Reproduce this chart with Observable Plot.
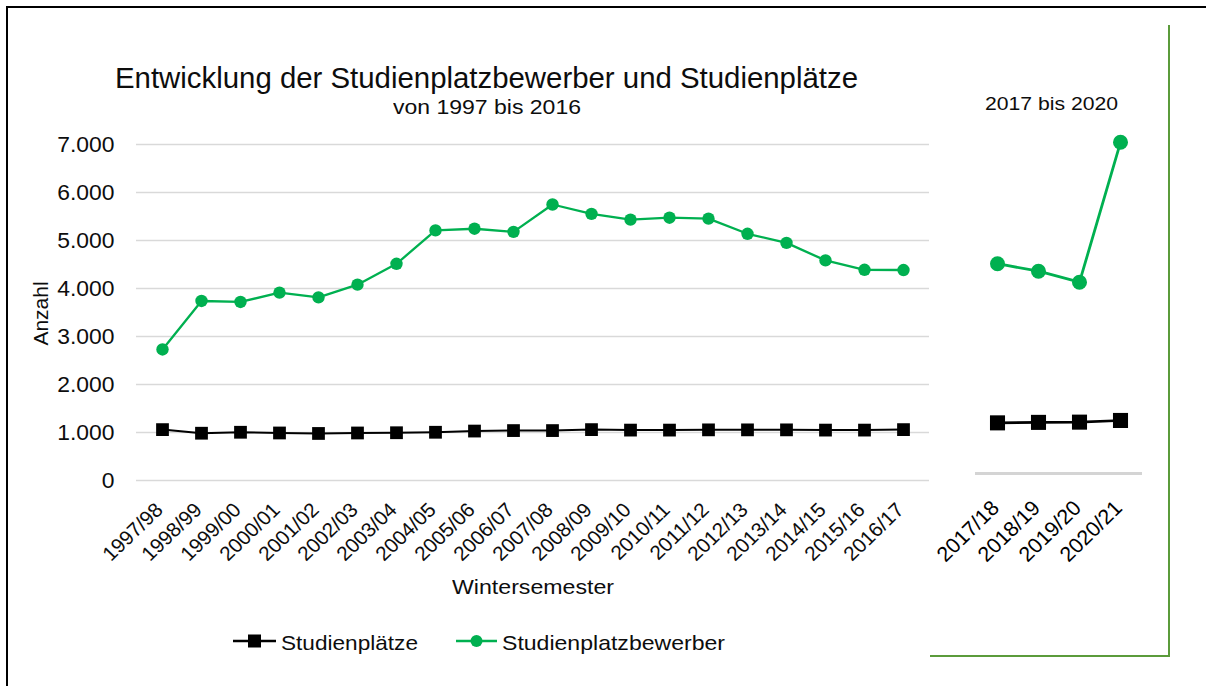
<!DOCTYPE html>
<html><head><meta charset="utf-8">
<script src="https://cdn.jsdelivr.net/npm/d3@7"></script>
<script src="https://cdn.jsdelivr.net/npm/@observablehq/plot@0.6"></script>
<style>
body{margin:0;background:#fff;}
#root{position:relative;width:1206px;height:686px;overflow:hidden;font-family:"Liberation Sans",Arial,sans-serif;color:#0d0d0d;background:#fff;}
.t{position:absolute;white-space:nowrap;line-height:1;transform-origin:0 50%;}
.frameBlack{position:absolute;left:6px;top:6px;width:1210px;height:700px;border-top:2px solid #000;border-left:2px solid #000;}
.frameGreen{position:absolute;left:930px;top:25px;width:238px;height:630px;border-right:2px solid #5b9b3b;border-bottom:2px solid #5b9b3b;}
.plot{position:absolute;}
</style></head><body><div id="root"><div class="frameBlack"></div><div class="frameGreen"></div></div>
<script>
// ---- data ----
const semesters = ["1997/98","1998/99","1999/00","2000/01","2001/02","2002/03","2003/04","2004/05","2005/06","2006/07","2007/08","2008/09","2009/10","2010/11","2011/12","2012/13","2013/14","2014/15","2015/16","2016/17"];
const bewerber = [2730, 3740, 3720, 3915, 3815, 4080, 4515, 5210, 5245, 5180, 5750, 5555, 5435, 5475, 5455, 5140, 4950, 4585, 4390, 4385];
const plaetze  = [1060, 985, 1005, 990, 980, 990, 995, 1005, 1030, 1040, 1040, 1060, 1050, 1050, 1055, 1055, 1055, 1050, 1050, 1060];
const semestersNeu = ["2017/18","2018/19","2019/20","2020/21"];
const bewerberNeu = [4370, 4215, 3985, 6900];
const plaetzeNeu  = [1055, 1065, 1070, 1105];
const yTicks = [0, 1000, 2000, 3000, 4000, 5000, 6000, 7000];
const titleText = "Entwicklung der Studienplatzbewerber und Studienplätze";
const subtitleText = "von 1997 bis 2016";
const subtitleNeu = "2017 bis 2020";
const yLabel = "Anzahl";
const xLabel = "Wintersemester";
const seriesNames = ["Studienplätze", "Studienplatzbewerber"];

const GREEN = "#00b050", BLACK = "#000000";
const root = document.getElementById("root");
const fmt = d => d3.format(",")(d).replace(/,/g, ".");

function styleTicks(svg, s) {
  svg.querySelectorAll('g[aria-label$="tick label"] text').forEach(t => {
    const tr = t.getAttribute("transform") || "";
    t.setAttribute("transform", tr.includes("rotate") ? tr.replace("rotate", `scale(${s},1) rotate`) : tr + ` scale(${s},1)`);
  });
}
function place(svg, left, top) {
  svg.classList.add("plot");
  svg.style.left = left + "px"; svg.style.top = top + "px";
  root.appendChild(svg);
}
function label(text, left, right, cy, size) {
  const el = document.createElement("div");
  el.className = "t"; el.textContent = text;
  el.style.fontSize = size + "px"; el.style.left = left + "px"; el.style.top = (cy - 0.49 * size) + "px";
  root.appendChild(el);
  const w = el.getBoundingClientRect().width;
  el.style.transform = `scaleX(${(right - left) / w})`;
  return el;
}

// ---- left chart ----
const rows = semesters.map((s, i) => ({sem: s, bew: bewerber[i], pl: plaetze[i]}));
const left = Plot.plot({
  width: 940, height: 470,
  marginLeft: 136, marginRight: 11, marginTop: 24, marginBottom: 110,
  style: {fontFamily: '"Liberation Sans", Arial, sans-serif', color: "#0d0d0d", background: "transparent", overflow: "visible"},
  x: {type: "point", domain: semesters, padding: 0.5, label: null},
  y: {domain: [0, 7000], label: null},
  marks: [
    Plot.ruleY(yTicks, {stroke: "#d9d9d9", strokeWidth: 1.5}),
    Plot.axisY(yTicks, {tickSize: 0, tickPadding: 22, tickFormat: fmt, fontSize: 22, label: null}),
    Plot.axisX({tickSize: 0, tickRotate: -45, tickPadding: 26, dx: -3, fontSize: 20, label: null}),
    Plot.lineY(rows, {x: "sem", y: "pl", stroke: BLACK, strokeWidth: 2}),
    Plot.dot(rows, {x: "sem", y: "pl", symbol: "square", r: 7.2, fill: BLACK}),
    Plot.lineY(rows, {x: "sem", y: "bew", stroke: GREEN, strokeWidth: 2.3}),
    Plot.dot(rows, {x: "sem", y: "bew", r: 6.2, fill: GREEN})
  ]
});
styleTicks(left, 1.04);
place(left, 0, 120);

// ---- right chart ----
const rowsNeu = semestersNeu.map((s, i) => ({sem: s, bew: bewerberNeu[i], pl: plaetzeNeu[i]}));
const right = Plot.plot({
  width: 240, height: 463,
  marginLeft: 45, marginRight: 28, marginTop: 27, marginBottom: 100,
  style: {fontFamily: '"Liberation Sans", Arial, sans-serif', color: "#000", background: "transparent", overflow: "visible"},
  x: {type: "point", domain: semestersNeu, padding: 0.5, label: null},
  y: {domain: [0, 7000], label: null, axis: null},
  marks: [
    Plot.ruleY([0], {stroke: "#d4d4d4", strokeWidth: 3}),
    Plot.axisX({tickSize: 0, tickRotate: -45, tickPadding: 31, dx: -2, fontSize: 21, label: null}),
    Plot.lineY(rowsNeu, {x: "sem", y: "pl", stroke: BLACK, strokeWidth: 2.6}),
    Plot.dot(rowsNeu, {x: "sem", y: "pl", symbol: "square", r: 8.5, fill: BLACK}),
    Plot.lineY(rowsNeu, {x: "sem", y: "bew", stroke: GREEN, strokeWidth: 2.8}),
    Plot.dot(rowsNeu, {x: "sem", y: "bew", r: 7.5, fill: GREEN})
  ]
});
styleTicks(right, 1.02);
place(right, 930, 110);

// ---- texts ----
label(titleText, 115, 858, 78, 30);
label(subtitleText, 393, 581, 106, 21);
label(subtitleNeu, 985, 1118, 103, 19);
label(xLabel, 452, 614, 587, 20);
const yl = label(yLabel, 0, 64, 0, 21);
yl.style.left = "8px"; yl.style.top = (313 - 10.3) + "px";
yl.style.transformOrigin = "50% 50%";
yl.style.transform = "rotate(-90deg)";

// ---- legend ----
function swatch(x0, x1, cy, color, kind) {
  const ns = "http://www.w3.org/2000/svg";
  const s = document.createElementNS(ns, "svg");
  s.setAttribute("width", x1 - x0); s.setAttribute("height", 20);
  s.style.position = "absolute"; s.style.left = x0 + "px"; s.style.top = (cy - 10) + "px";
  const l = document.createElementNS(ns, "line");
  l.setAttribute("x1", 0); l.setAttribute("x2", x1 - x0); l.setAttribute("y1", 10); l.setAttribute("y2", 10);
  l.setAttribute("stroke", color); l.setAttribute("stroke-width", 2.5);
  s.appendChild(l);
  const m = (x1 - x0) / 2;
  if (kind === "square") {
    const r = document.createElementNS(ns, "rect");
    r.setAttribute("x", m - 6.5); r.setAttribute("y", 3.5); r.setAttribute("width", 13); r.setAttribute("height", 13);
    r.setAttribute("fill", color); s.appendChild(r);
  } else {
    const c = document.createElementNS(ns, "circle");
    c.setAttribute("cx", m); c.setAttribute("cy", 10); c.setAttribute("r", 6);
    c.setAttribute("fill", color); s.appendChild(c);
  }
  root.appendChild(s);
}
swatch(233, 276, 641, BLACK, "square");
label(seriesNames[0], 281, 418, 642, 21);
swatch(456, 497, 641, GREEN, "circle");
label(seriesNames[1], 502, 725, 642, 21);
</script></body></html>
